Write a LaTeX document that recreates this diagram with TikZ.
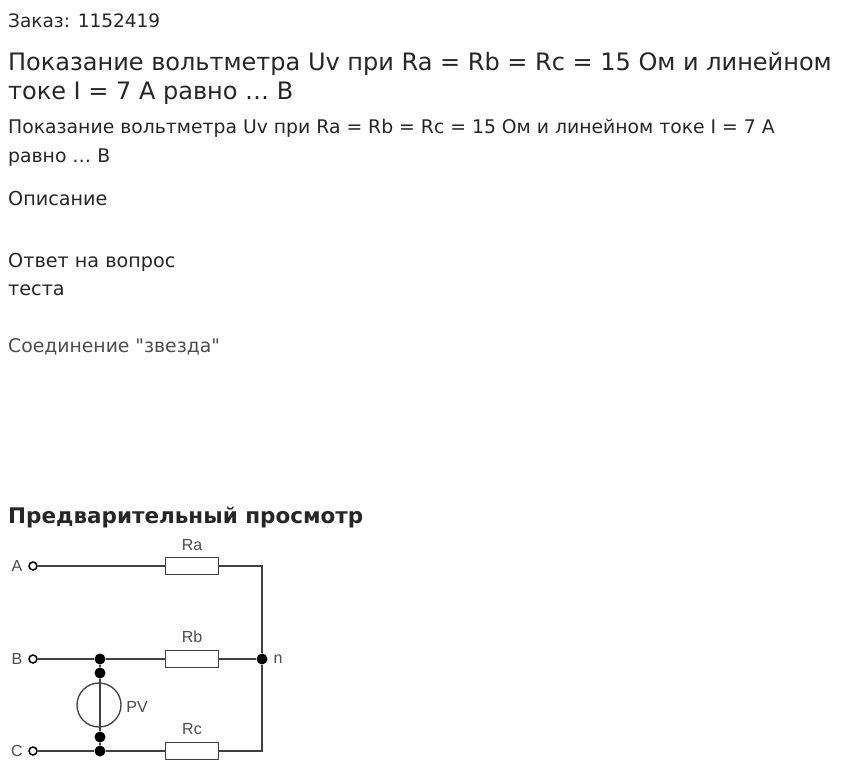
\documentclass[tikz,border=0pt]{standalone}
\usepackage{fontspec}
\setmainfont{DejaVu Sans}
\newfontfamily\arialf{Liberation Sans}
\begin{document}
\begin{tikzpicture}[x=1pt,y=-1pt,
  txt/.style={anchor=base west,inner sep=0pt,text=black!85},
  lbl/.style={font=\arialf\fontsize{16}{16}\selectfont,text=black!70,inner sep=0pt},
  wire/.style={draw=black!75,line width=1.3pt},
  res/.style={draw=black!75,line width=1.3pt,fill=white,minimum width=53pt,minimum height=17pt,inner sep=0pt},
  term/.style={circle,draw=black,line width=1.5pt,fill=white,minimum size=8pt,inner sep=0pt},
  jdot/.style={circle,fill=black,minimum size=11pt,inner sep=0pt}]
\useasboundingbox (0,0) rectangle (847,774);
\node[txt,font=\fontsize{18.5}{18.5}\selectfont] (t0) at (8,27) {Заказ: 1152419};
\node[txt,font=\fontsize{24}{24}\selectfont] (t1) at (8,70) {Показание вольтметра Uv при Ra = Rb = Rc = 15 Ом и линейном};
\node[txt,font=\fontsize{24}{24}\selectfont] (t2) at (8,99) {токе I = 7 А равно … В};
\node[txt,font=\fontsize{18.8}{18.8}\selectfont] (t3) at (8,133) {Показание вольтметра Uv при Ra = Rb = Rc = 15 Ом и линейном токе I = 7 А};
\node[txt,font=\fontsize{18.8}{18.8}\selectfont] (t4) at (8,162) {равно … В};
\node[txt,font=\fontsize{19.2}{19.2}\selectfont] (t5) at (8,205) {Описание};
\node[txt,font=\fontsize{19.2}{19.2}\selectfont] (t6) at (8,267) {Ответ на вопрос};
\node[txt,font=\fontsize{19.2}{19.2}\selectfont] (t7) at (8,295) {теста};
\node[txt,font=\fontsize{18.8}{18.8}\selectfont,text=black!70] (t8) at (8,352) {Соединение \textquotedbl звезда\textquotedbl};
\node[txt,font=\bfseries\fontsize{21.5}{21.5}\selectfont] (t9) at (8,523) {Предварительный просмотр};
% circuit
\node[term] (A) at (33,566) {};
\node[term] (B) at (33,659) {};
\node[term] (C) at (33,751) {};
\node[res] (Ra) at (192,566) {};
\node[res] (Rb) at (192,659) {};
\node[res] (Rc) at (192,751) {};
\coordinate (ar) at (262,566);
\coordinate (cr) at (262,751);
\node[jdot] (n) at (262,659) {};
\node[jdot] (b1) at (100,659) {};
\node[jdot] (b2) at (100,673) {};
\node[jdot] (c2) at (100,737) {};
\node[jdot] (c1) at (100,751) {};
\node[circle,draw=black!75,line width=1.3pt,minimum size=44pt,inner sep=0pt] (PV) at (99,705) {};
\draw[wire] (A) -- (Ra) (Ra) -- (ar) -- (n) -- (cr) -- (Rc);
\draw[wire] (B) -- (b1) -- (Rb) (Rb) -- (n);
\draw[wire] (C) -- (c1) -- (Rc);
\draw[wire] (b1) -- (b2) -- (c2) -- (c1);
\node[lbl] (la) at (192,545) {Ra};
\node[lbl] (lb) at (192,637) {Rb};
\node[lbl] (lc) at (192,729) {Rc};
\node[lbl] (lpv) at (137,707) {PV};
\node[lbl] (ln) at (278,659) {n};
\node[lbl] (lA) at (17,566) {A};
\node[lbl] (lB) at (17,659) {B};
\node[lbl] (lC) at (17,751) {C};
\end{tikzpicture}
\end{document}
